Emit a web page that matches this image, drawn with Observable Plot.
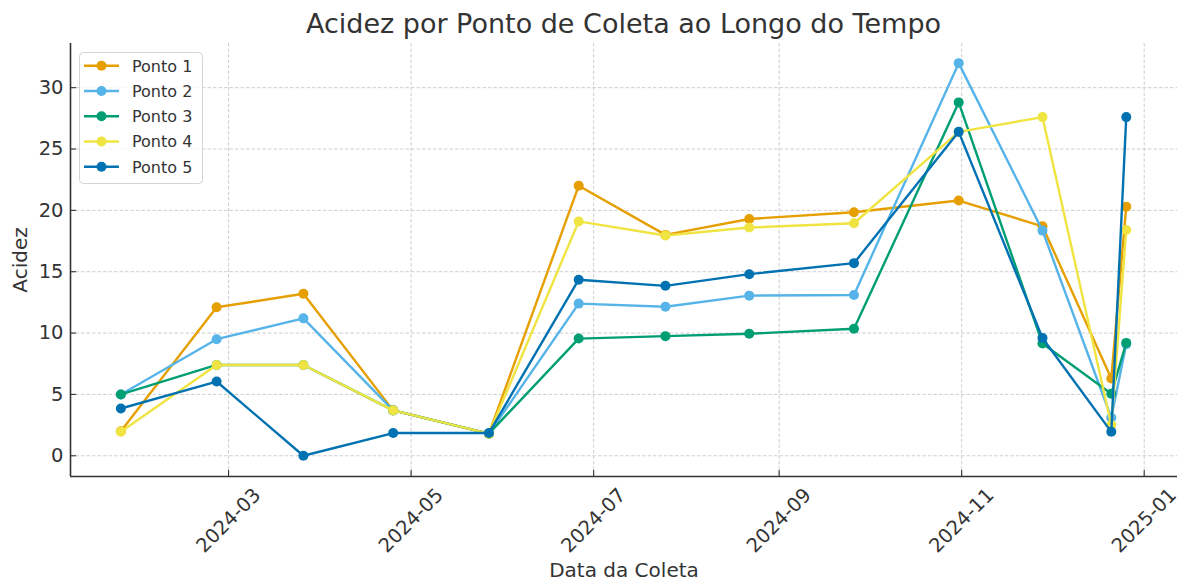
<!DOCTYPE html>
<html>
<head>
<meta charset="utf-8">
<script src="https://cdn.jsdelivr.net/npm/d3@7"></script>
<script src="https://cdn.jsdelivr.net/npm/@observablehq/plot@0.6"></script>
<style>
  body { margin: 0; background: #fff; font-family: "DejaVu Sans", sans-serif; }
  #wrap { position: relative; width: 1184px; height: 581px; overflow: hidden; }
  #title { position: absolute; left: 70px; width: 1107px; top: 10px; text-align: center;
           font-size: 27px; line-height: 1; color: #333; white-space: nowrap; }
  #legend { position: absolute; left: 0; top: 0; pointer-events: none; }
</style>
</head>
<body>
<div id="wrap">
  <div id="title">Acidez por Ponto de Coleta ao Longo do Tempo</div>
</div>
<script>
// ---- data ----
const dates = ["2024-01-25","2024-02-26","2024-03-26","2024-04-25","2024-05-27","2024-06-26",
               "2024-07-25","2024-08-22","2024-09-26","2024-10-31","2024-11-28","2024-12-21","2024-12-26"];
const ponto1 = [2.0, 12.1, 13.2, 3.7, 1.8, 22.0, 18.0, 19.3, 19.85, 20.8, 18.7, 6.3, 20.3];
const ponto2 = [5.0, 9.5, 11.2, 3.7, 1.8, 12.4, 12.15, 13.05, 13.1, 32.0, 18.35, 3.1, 9.1];
const ponto3 = [5.0, 7.4, 7.4, 3.7, 1.8, 9.55, 9.75, 9.95, 10.35, 28.8, 9.15, 5.05, 9.2];
const ponto4 = [1.95, 7.4, 7.4, 3.7, 1.8, 19.1, 17.95, 18.6, 18.95, 26.4, 27.6, 2.5, 18.4];
const ponto5 = [3.85, 6.05, 0.0, 1.85, 1.85, 14.35, 13.85, 14.8, 15.7, 26.4, 9.6, 1.95, 27.6];
const seriesNames = ["Ponto 1", "Ponto 2", "Ponto 3", "Ponto 4", "Ponto 5"];
const seriesValues = [ponto1, ponto2, ponto3, ponto4, ponto5];
const seriesColors = ["#E69F00", "#56B4E9", "#009E73", "#F0E442", "#0072B2"];
const yTicks = [0, 5, 10, 15, 20, 25, 30];
const xTickLabels = ["2024-03", "2024-05", "2024-07", "2024-09", "2024-11", "2025-01"];
const yLabel = "Acidez";
const xLabel = "Data da Coleta";

// ---- build ----
const xTickDates = xTickLabels.map(s => new Date(s + "-01"));
const records = seriesNames.map((name, i) =>
  dates.map((d, j) => ({ serie: name, date: new Date(d), value: seriesValues[i][j] })));

const W = 1184, H = 581;
const mL = 70, mR = 7, mT = 43, mB = 105;
const frameW = W - mL - mR, frameH = H - mT - mB;
const xDomain = [new Date("2024-01-08T04:00Z"), new Date("2025-01-12T03:00Z")];
const yDomain = [-1.69, 33.6];
const ink = "#333333";
const gridStyle = { stroke: "#c8c8c8", strokeOpacity: 1, strokeWidth: 0.9, strokeDasharray: "3.5,2" };

const seriesMarks = records.flatMap((rec, i) => [
  Plot.line(rec, { x: "date", y: "value", stroke: seriesColors[i], strokeWidth: 2.4 }),
  Plot.dot(rec, { x: "date", y: "value", fill: seriesColors[i], r: 5, stroke: "none" })
]);

const chart = Plot.plot({
  width: W, height: H,
  marginLeft: mL, marginRight: mR, marginTop: mT, marginBottom: mB,
  style: { fontFamily: "DejaVu Sans", fontSize: "19.5px", color: ink, background: "transparent", overflow: "visible" },
  x: { type: "utc", domain: xDomain, axis: null },
  y: { domain: yDomain, axis: null },
  marks: [
    Plot.gridY(yTicks, gridStyle),
    Plot.gridX(xTickDates, gridStyle),
    ...seriesMarks,
    // spines
    Plot.ruleX([xDomain[0]], { stroke: ink, strokeWidth: 1.6 }),
    Plot.ruleY([yDomain[0]], { stroke: ink, strokeWidth: 1.6 }),
    // inward ticks
    Plot.ruleY(yTicks, { stroke: ink, strokeWidth: 1.1, insetRight: frameW - 6 }),
    Plot.ruleX(xTickDates, { stroke: ink, strokeWidth: 1.1, insetTop: frameH - 6 }),
    // tick labels
    Plot.text(yTicks, { y: d => d, text: d => String(d), frameAnchor: "left", dx: -7,
                        textAnchor: "end", lineAnchor: "middle", fill: ink, fontSize: 19.5 }),
    Plot.text(xTickDates, { x: d => d, text: (d, i) => xTickLabels[i], frameAnchor: "bottom", dy: 44,
                            rotate: -45, textAnchor: "middle", lineAnchor: "middle", fill: ink, fontSize: 19.5 }),
    // axis labels
    Plot.text([yLabel], { text: d => d, frameAnchor: "left", dx: -49.5, rotate: -90,
                          textAnchor: "middle", lineAnchor: "middle", fill: ink, fontSize: 20 }),
    Plot.text([xLabel], { text: d => d, frameAnchor: "bottom", dy: 94,
                          textAnchor: "middle", lineAnchor: "middle", fill: ink, fontSize: 20 })
  ]
});
document.getElementById("wrap").appendChild(chart);

// ---- legend ----
const leg = d3.select("#wrap").append("svg").attr("id", "legend").attr("width", W).attr("height", H);
leg.append("rect").attr("x", 79.5).attr("y", 52.5).attr("width", 123).attr("height", 131)
  .attr("rx", 4).attr("fill", "#fff").attr("fill-opacity", 0.8).attr("stroke", "#d4d4d4");
seriesNames.forEach((name, i) => {
  const y = 65.8 + i * 25.25;
  const g = leg.append("g");
  g.append("line").attr("x1", 84).attr("x2", 119).attr("y1", y).attr("y2", y)
    .attr("stroke", seriesColors[i]).attr("stroke-width", 2.4);
  g.append("circle").attr("cx", 101.5).attr("cy", y).attr("r", 5).attr("fill", seriesColors[i]);
  g.append("text").attr("x", 132).attr("y", y).attr("dy", "0.36em")
    .attr("font-family", "DejaVu Sans").attr("font-size", 16).attr("fill", ink).text(name);
});
</script>
</body>
</html>
